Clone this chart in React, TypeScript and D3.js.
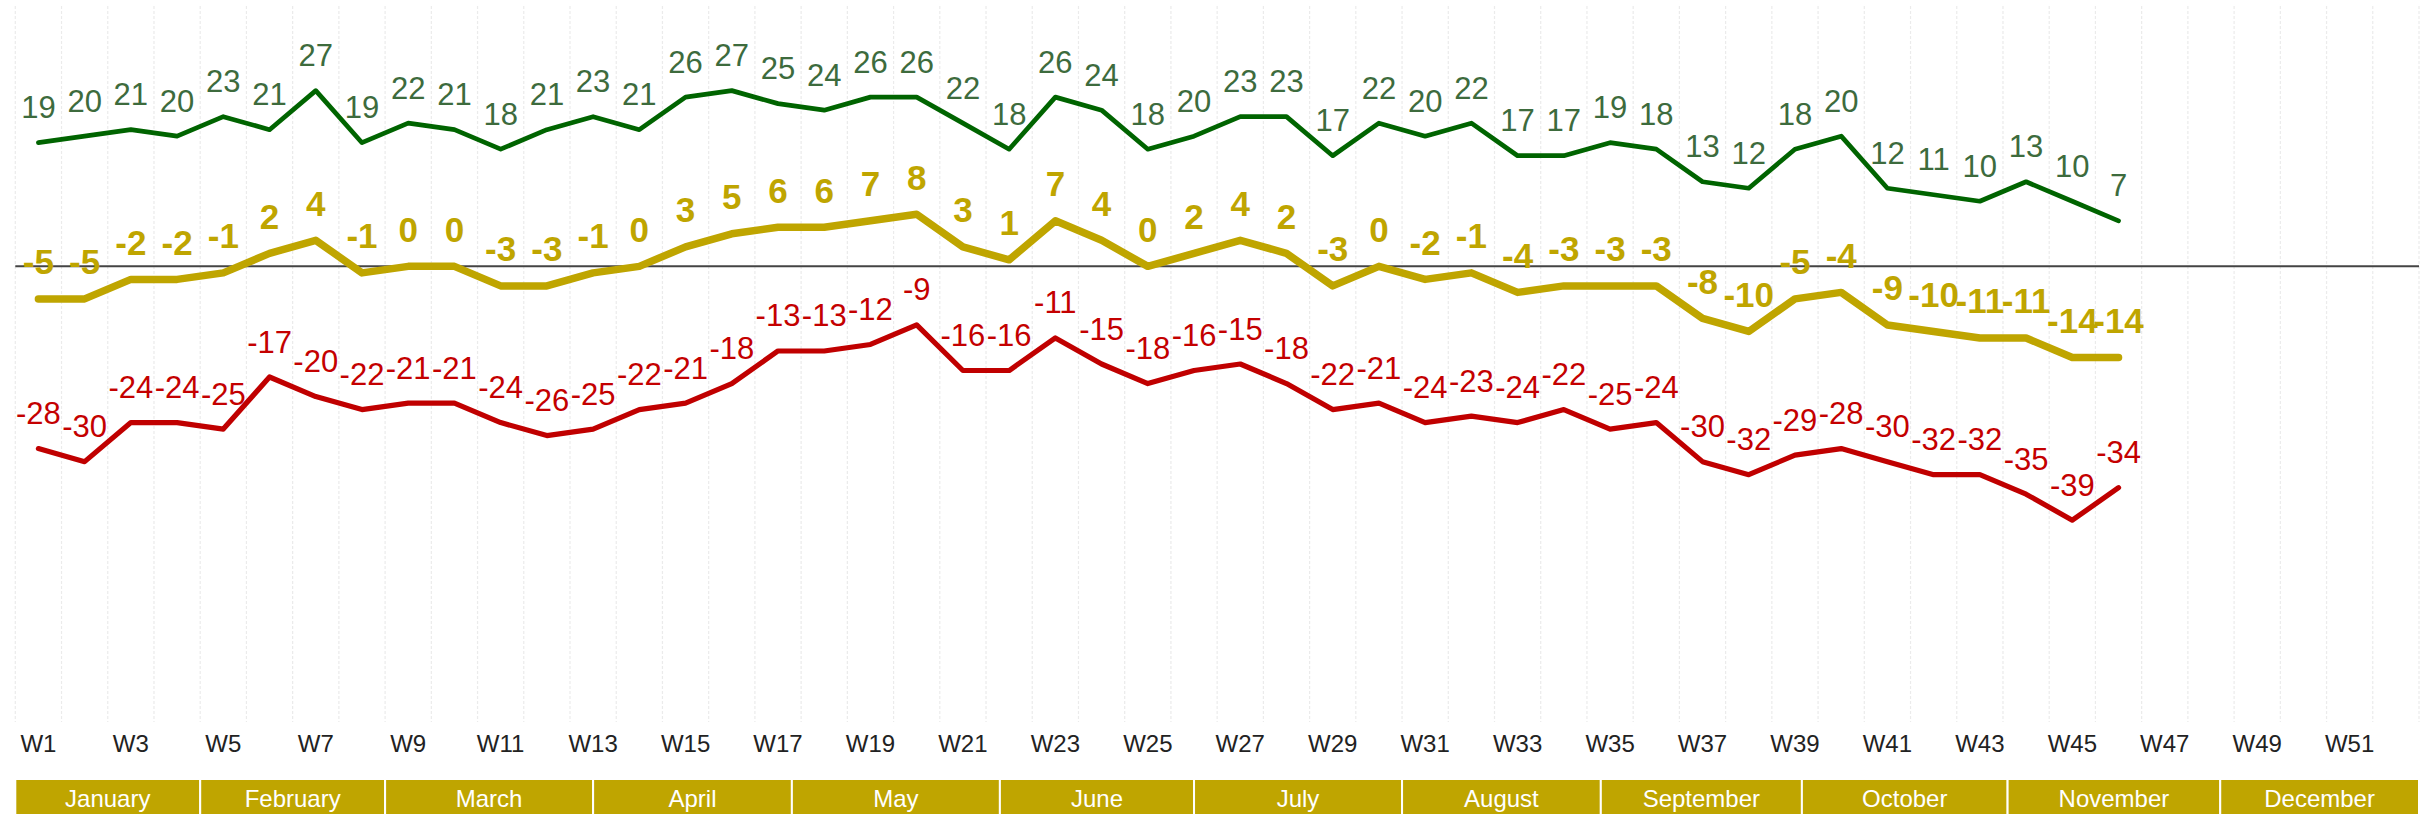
import * as d3 from "d3";

const WIDTH = 2433;
const HEIGHT = 814;

// weeks on the x axis, every other one gets a tick label
const WEEKS = d3.range(1, 53).map((i) => `W${i}`);

const MONTHS = [
  "January", "February", "March", "April", "May", "June",
  "July", "August", "September", "October", "November", "December",
];
// month strip boundaries, in weeks from the start of the year
const MONTH_BOUNDS = [0, 4, 8, 12.5, 16.8, 21.3, 25.5, 30, 34.3, 38.65, 43.1, 47.7, 52];

const GREEN = [
  19, 20, 21, 20, 23, 21, 27, 19, 22, 21, 18, 21, 23, 21, 26, 27, 25, 24, 26, 26,
  22, 18, 26, 24, 18, 20, 23, 23, 17, 22, 20, 22, 17, 17, 19, 18, 13, 12, 18, 20,
  12, 11, 10, 13, 10, 7,
];
const YELLOW = [
  -5, -5, -2, -2, -1, 2, 4, -1, 0, 0, -3, -3, -1, 0, 3, 5, 6, 6, 7, 8,
  3, 1, 7, 4, 0, 2, 4, 2, -3, 0, -2, -1, -4, -3, -3, -3, -8, -10, -5, -4,
  -9, -10, -11, -11, -14, -14,
];
const RED = [
  -28, -30, -24, -24, -25, -17, -20, -22, -21, -21, -24, -26, -25, -22, -21, -18, -13, -13, -12, -9,
  -16, -16, -11, -15, -18, -16, -15, -18, -22, -21, -24, -23, -24, -22, -25, -24, -30, -32, -29, -28,
  -30, -32, -32, -35, -39, -34,
];

const SERIES = [
  { key: "green", values: GREEN, line: "#006400", label: "#3d6b3d", width: 4.7, bold: false, size: 31 },
  { key: "yellow", values: YELLOW, line: "#bfa500", label: "#bfa500", width: 7.5, bold: true, size: 35 },
  { key: "red", values: RED, line: "#c00000", label: "#c40000", width: 5.2, bold: false, size: 31 },
];

const PLOT = { left: 15.3, right: 2419, top: 6, bottom: 722 };
const FONT = "'Liberation Sans', Arial, Helvetica, sans-serif";

export default function App() {
  const x = d3.scaleBand<string>().domain(WEEKS).range([PLOT.left, PLOT.right]).padding(0);
  const weekPos = d3.scaleLinear().domain([0, WEEKS.length]).range([PLOT.left, PLOT.right]);
  const y = d3.scaleLinear().domain([-70, 40]).range([PLOT.bottom, PLOT.top]);
  const cx = (i: number) => (x(WEEKS[i]) ?? 0) + x.bandwidth() / 2;

  const line = d3
    .line<number>()
    .x((_, i) => cx(i))
    .y((d) => y(d));

  const gridXs = d3.range(0, WEEKS.length + 1).map((k) => weekPos(k));

  return (
    <svg
      width={WIDTH}
      height={HEIGHT}
      style={{ position: "absolute", left: 0, top: 0, background: "#fff" }}
      fontFamily={FONT}
    >
      {/* vertical gridlines between weeks */}
      {gridXs.map((gx, i) => (
        <line
          key={i}
          x1={gx}
          x2={gx}
          y1={PLOT.top}
          y2={PLOT.bottom}
          stroke="#ebebeb"
          strokeWidth={1.2}
          strokeDasharray="3,2"
        />
      ))}

      {/* zero line */}
      <line x1={PLOT.left} x2={PLOT.right} y1={y(0)} y2={y(0)} stroke="#444" strokeWidth={2} />

      {SERIES.map((s) => (
        <path
          key={s.key}
          d={line(s.values) ?? ""}
          fill="none"
          stroke={s.line}
          strokeWidth={s.width}
          strokeLinejoin="round"
          strokeLinecap="round"
        />
      ))}

      {SERIES.map((s) =>
        s.values.map((v, i) => (
          <text
            key={`${s.key}-${i}`}
            x={cx(i)}
            y={y(v) - 24.5}
            textAnchor="middle"
            fontSize={s.size}
            fontWeight={s.bold ? "bold" : "normal"}
            fill={s.label}
          >
            {v}
          </text>
        ))
      )}

      {/* week ticks */}
      {WEEKS.filter((_, i) => i % 2 === 0).map((w) => (
        <text
          key={w}
          x={(x(w) ?? 0) + x.bandwidth() / 2}
          y={751.5}
          textAnchor="middle"
          fontSize={24}
          fill="#222"
        >
          {w}
        </text>
      ))}

      {/* month strip */}
      {MONTHS.map((m, i) => {
        const x0 = weekPos(MONTH_BOUNDS[i]);
        const x1 = weekPos(MONTH_BOUNDS[i + 1]);
        return (
          <g key={m}>
            <rect x={x0} y={779} width={x1 - x0} height={40} fill="#bfa500" stroke="#fff" strokeWidth={2} />
            <text x={(x0 + x1) / 2} y={806.5} textAnchor="middle" fontSize={24} fill="#fff">
              {m}
            </text>
          </g>
        );
      })}
    </svg>
  );
}
